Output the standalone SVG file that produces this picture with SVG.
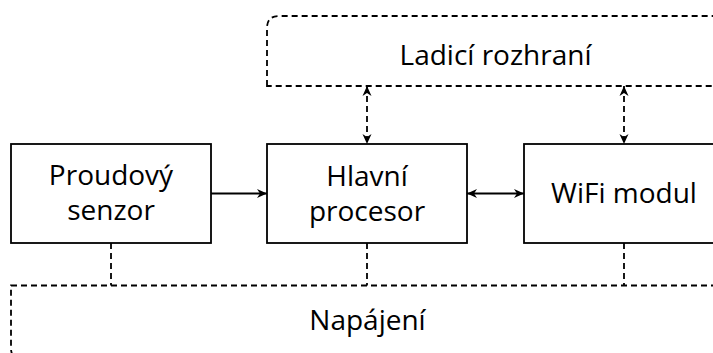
<svg xmlns="http://www.w3.org/2000/svg" width="713" height="353" viewBox="0 0 713 353">
  <style>
    .box { fill: #ffffff; stroke: #000000; stroke-width: 1.8; }
    .group { fill: none; stroke: #000000; stroke-width: 1.8; stroke-dasharray: 6 4; }
    .link { fill: none; stroke: #000000; stroke-width: 1.8; }
    .dlink { fill: none; stroke: #000000; stroke-width: 1.8; stroke-dasharray: 6 4; }
    .label { font-family: "Open Sans", "Noto Sans", sans-serif; font-size: 28px; fill: #000000; text-anchor: middle; }
  </style>
  <defs>
    <marker id="arrow" viewBox="0 0 10 10" refX="10" refY="5" markerWidth="10" markerHeight="10" markerUnits="userSpaceOnUse" orient="auto-start-reverse">
      <path d="M0,0.5 L10,5 L0,9.5 L3,5 Z" fill="#000000"/>
    </marker>
  </defs>

  <!-- debug interface area -->
  <g id="ladici-rozhrani">
    <path class="group" d="M267 86 L267 28 Q267 16 279 16 L712 16 Q724 16 724 28 L724 86 Z"/>
    <text class="label" x="495.5" y="65">Ladicí rozhraní</text>
  </g>

  <!-- power supply area -->
  <g id="napajeni">
    <path class="group" d="M11 285.5 L724 285.5 L724 360 L23 360 Q11 360 11 348 Z"/>
    <text class="label" x="367.5" y="330">Napájení</text>
  </g>

  <g id="proudovy-senzor">
    <rect class="box" x="11" y="144" width="200" height="99"/>
    <text class="label" x="111" y="185">Proudový</text>
    <text class="label" x="111" y="220">senzor</text>
  </g>

  <g id="hlavni-procesor">
    <rect class="box" x="267" y="144" width="200" height="99"/>
    <text class="label" x="367" y="186">Hlavní</text>
    <text class="label" x="367" y="221">procesor</text>
  </g>

  <g id="wifi-modul">
    <rect class="box" x="524" y="144" width="200" height="99"/>
    <text class="label" x="624" y="203">WiFi modul</text>
  </g>

  <g id="connectors">
    <line class="link" x1="211" y1="193.5" x2="267" y2="193.5" marker-end="url(#arrow)"/>
    <line class="link" x1="467" y1="193.5" x2="524" y2="193.5" marker-start="url(#arrow)" marker-end="url(#arrow)"/>
    <line class="dlink" x1="367" y1="86" x2="367" y2="144" marker-start="url(#arrow)" marker-end="url(#arrow)"/>
    <line class="dlink" x1="624" y1="86" x2="624" y2="144" marker-start="url(#arrow)" marker-end="url(#arrow)"/>
    <line class="dlink" x1="111" y1="243" x2="111" y2="285.5"/>
    <line class="dlink" x1="367" y1="243" x2="367" y2="285.5"/>
    <line class="dlink" x1="624" y1="243" x2="624" y2="285.5"/>
  </g>
</svg>
